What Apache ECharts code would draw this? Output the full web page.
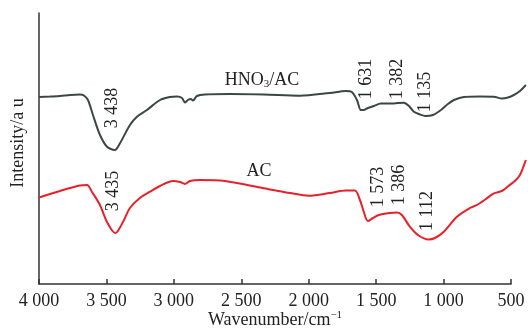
<!DOCTYPE html>
<html>
<head>
<meta charset="utf-8">
<script src="https://cdn.jsdelivr.net/npm/echarts@6/dist/echarts.min.js"></script>
<style>
html,body{margin:0;padding:0;background:#fff;}
#c{width:528px;height:329px;}
</style>
</head>
<body>
<div id="c"></div>
<script>
// X ticks
const xTicks = [4000, 3500, 3000, 2500, 2000, 1500, 1000, 500];

// HNO3/AC spectrum (wavenumber, relative intensity)
const grayWavenumber = [4000,3918,3844,3770,3696,3667,3637,3600,3548,3496,3438,3400,3326,3274,3200,3103,3029,2977,2940,2918,2896,2876,2859,2829,2770,2585,2333,2066,1844,1725,1681,1643,1614,1592,1570,1518,1466,1382,1340,1295,1258,1221,1176,1135,1080,1020,969,924,850,732,628,569,524,480,435,391];
const grayIntensity  = [187,187.5,188,189,189.5,188.5,184,169,149,137.3,134,140.7,159,167.3,174,184,187,187.5,186,181.5,184,185,183.5,188,189.5,190,189.5,188.3,191,193,192,184,174,174,175.5,178,180.5,180.5,181,181.3,178,172.3,169.5,168,169,174,180,184,187,187.5,187.3,185.5,186.5,189,193,199];

// AC spectrum
const redWavenumber = [4000,3918,3844,3770,3696,3644,3607,3548,3496,3435,3415,3370,3326,3252,3177,3103,3007,2955,2918,2881,2807,2622,2333,2140,1999,1844,1725,1658,1621,1592,1562,1525,1480,1399,1347,1310,1251,1191,1112,1065,999,902,806,754,687,628,569,520,465,435,413,391];
const redIntensity  = [86.5,90,93,96,98.5,99,92,79,62,51,53,64,76,86,92.3,98,103,102,100,103,104,103,95.7,91,88.3,91,93.5,93.5,84,72,63,66,69,71,71.5,69,57.3,49,44.5,46,52.3,67.3,76,79,85,90.7,93,98,104,109,116,124];

// Annotations (text, x px, y px, rotated)
const peakLabels = ["3 438", "3 435", "1 631", "1 382", "1 135", "1 573", "1 386", "1 112"];
const peakPos = [[112,108],[113,191],[366,79],[397,79],[425,92],[378,187],[399,185],[427,211]];

const fmt = v => v >= 1000 ? Math.floor(v/1000) + ' ' + String(v % 1000).padStart(3, '0') : String(v);
const FONT = '"Liberation Serif", "Times New Roman", serif';

const chart = echarts.init(document.getElementById('c'), null, {renderer: 'canvas'});

const graphics = peakLabels.map((t, i) => ({
  type: 'text', x: peakPos[i][0], y: peakPos[i][1], rotation: Math.PI / 2,
  style: {text: t, font: '18px ' + FONT, fill: '#222', align: 'center', verticalAlign: 'middle'}
}));
graphics.push({
  type: 'text', x: 262, y: 80,
  style: {
    text: '{a|HNO}{b|3}{a|/AC}', align: 'center', verticalAlign: 'middle',
    rich: {a: {fontFamily: FONT, fontSize: 18, fill: '#222'}, b: {fontFamily: FONT, fontSize: 11, fill: '#222', padding: [9, 0, 0, 0]}}
  }
});
graphics.push({
  type: 'text', x: 259, y: 171,
  style: {text: 'AC', font: '18px ' + FONT, fill: '#222', align: 'center', verticalAlign: 'middle'}
});
graphics.push({
  type: 'text', x: 275, y: 320,
  style: {
    text: '{a|Wavenumber/cm}{b|−1}', align: 'center', verticalAlign: 'middle',
    rich: {a: {fontFamily: FONT, fontSize: 18, fill: '#222'}, b: {fontFamily: FONT, fontSize: 11, fill: '#222', padding: [0, 0, 10, 0]}}
  }
});
graphics.push({
  type: 'text', x: 18, y: 143, rotation: Math.PI / 2,
  style: {text: 'Intensity/a u', font: '18px ' + FONT, fill: '#222', align: 'center', verticalAlign: 'middle'}
});

chart.setOption({
  animation: false,
  grid: [
    {left: 39, right: 2, top: 13, bottom: 45},
    {left: 39, right: 17, top: 13, bottom: 45}
  ],
  xAxis: [
    {gridIndex: 0, type: 'value', min: 390, max: 4000, inverse: true, show: false},
    {gridIndex: 1, type: 'value', min: 500, max: 4000, interval: 500, inverse: true,
     axisLine: {show: true, lineStyle: {color: '#333', width: 1.5}},
     axisTick: {show: true, inside: true, length: 5, lineStyle: {color: '#333', width: 1.5}},
     axisLabel: {formatter: v => fmt(v), fontFamily: FONT, fontSize: 18, color: '#222', margin: 8},
     splitLine: {show: false}}
  ],
  yAxis: [
    {gridIndex: 0, type: 'value', min: 0, max: 271, show: false},
    {gridIndex: 1, type: 'value', min: 0, max: 271,
     axisLine: {show: true, lineStyle: {color: '#333', width: 1.5}},
     axisTick: {show: false}, axisLabel: {show: false}, splitLine: {show: false}}
  ],
  series: [
    {type: 'line', xAxisIndex: 0, yAxisIndex: 0, data: grayWavenumber.map((w, i) => [w, grayIntensity[i]]),
     showSymbol: false, lineStyle: {color: '#3b4745', width: 2}, smooth: 0.3},
    {type: 'line', xAxisIndex: 0, yAxisIndex: 0, data: redWavenumber.map((w, i) => [w, redIntensity[i]]),
     showSymbol: false, lineStyle: {color: '#e8202a', width: 2}, smooth: 0.3}
  ],
  graphic: graphics
});
</script>
</body>
</html>
